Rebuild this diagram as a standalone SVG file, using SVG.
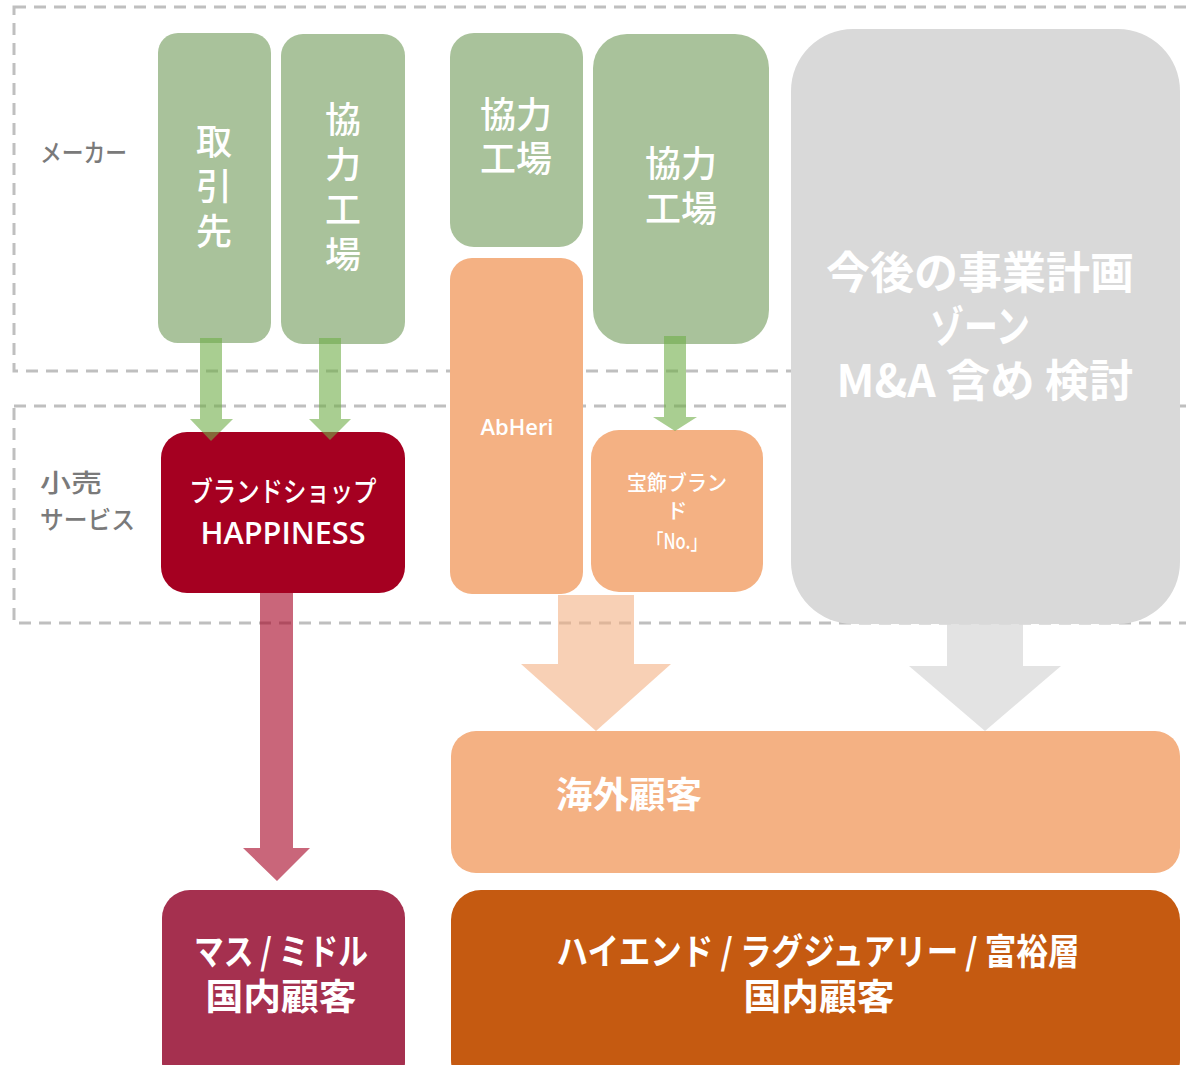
<svg xmlns="http://www.w3.org/2000/svg" width="1186" height="1065" viewBox="0 0 1186 1065">
<style>
.zone{fill:none;stroke:#BFBFBF;stroke-width:3;stroke-dasharray:12 8}
.green{fill:#A9C29B}
.orange{fill:#F4B183}
.jp{font-family:"Noto Sans CJK JP","Noto Sans",sans-serif}
.lat{font-family:"Open Sans","Noto Sans CJK JP",sans-serif}
.w{fill:#FFFFFF}
.m{font-weight:500}
.lbl{fill:#7A7A7A;font-size:25px;font-weight:500}
.big{font-size:36px}
.b{font-weight:700}
</style>
<g id="zones">
<rect class="zone" x="14" y="7" width="1190" height="364"/>
<rect class="zone" x="14" y="406" width="1190" height="217"/>
</g>
<g id="label-maker"><text class="jp lbl" x="40" y="162" textLength="87" lengthAdjust="spacingAndGlyphs">メーカー</text></g>
<g id="label-retail">
<text class="jp lbl" x="40" y="492" textLength="62" lengthAdjust="spacingAndGlyphs">小売</text>
<text class="jp lbl" x="40" y="529" textLength="95" lengthAdjust="spacingAndGlyphs">サービス</text>
</g>
<g id="n-torihikisaki">
<rect class="green" x="158" y="33" width="113" height="310" rx="20"/>
<text class="jp w m big" text-anchor="middle"><tspan x="214" y="155">取</tspan><tspan x="214" y="200">引</tspan><tspan x="214" y="245">先</tspan></text>
</g>
<g id="n-kyoryoku1">
<rect class="green" x="281" y="34" width="124" height="310" rx="22"/>
<text class="jp w m big" text-anchor="middle"><tspan x="343" y="133">協</tspan><tspan x="343" y="178">力</tspan><tspan x="343" y="223">工</tspan><tspan x="343" y="268">場</tspan></text>
</g>
<g id="n-kyoryoku2">
<rect class="green" x="450" y="33" width="133" height="214" rx="24"/>
<text class="jp w m big" text-anchor="middle"><tspan x="516" y="128">協力</tspan><tspan x="516" y="172">工場</tspan></text>
</g>
<g id="n-kyoryoku3">
<rect class="green" x="593" y="34" width="176" height="310" rx="34"/>
<text class="jp w m big" text-anchor="middle"><tspan x="681" y="177">協力</tspan><tspan x="681" y="222">工場</tspan></text>
</g>
<g id="n-future">
<rect x="791" y="29" width="389" height="595" rx="62" fill="#D9D9D9"/>
<text class="jp w b" font-size="44" text-anchor="middle">
<tspan x="985" y="289" textLength="308" lengthAdjust="spacingAndGlyphs">今後の事業計画</tspan>
<tspan x="985" y="343" textLength="100" lengthAdjust="spacingAndGlyphs">ゾーン</tspan>
<tspan x="985" y="397" textLength="297" lengthAdjust="spacingAndGlyphs">M&amp;A 含め 検討</tspan>
</text>
</g>
<g id="n-abheri">
<rect class="orange" x="450" y="258" width="133" height="336" rx="22"/>
<text class="lat w" font-size="22" font-weight="600" x="517" y="435" text-anchor="middle" textLength="73" lengthAdjust="spacingAndGlyphs">AbHeri</text>
</g>
<g id="n-hoshoku">
<rect class="orange" x="591" y="430" width="172" height="162" rx="28"/>
<text class="jp w m" font-size="21" text-anchor="middle"><tspan x="677" y="490" textLength="100" lengthAdjust="spacingAndGlyphs">宝飾ブラン</tspan><tspan x="677" y="518">ド</tspan><tspan x="677" y="549" textLength="60" lengthAdjust="spacingAndGlyphs">「No.」</tspan></text>
</g>
<g id="n-happiness">
<rect x="161" y="432" width="244" height="161" rx="26" fill="#A50021"/>
<text class="jp w m" font-size="28" x="283" y="502" text-anchor="middle" textLength="187" lengthAdjust="spacingAndGlyphs">ブランドショップ</text>
<text class="lat w" font-size="31" font-weight="600" x="283" y="544" text-anchor="middle" textLength="165" lengthAdjust="spacingAndGlyphs">HAPPINESS</text>
</g>
<g id="n-overseas">
<rect class="orange" x="451" y="731" width="729" height="142" rx="25"/>
<text class="jp w b big" x="556" y="808" textLength="146" lengthAdjust="spacingAndGlyphs">海外顧客</text>
</g>
<g id="n-mass">
<rect x="162" y="890" width="243" height="200" rx="28" fill="#A5304F"/>
<text class="jp w b big" text-anchor="middle"><tspan x="281" y="965" textLength="174" lengthAdjust="spacingAndGlyphs">マス / ミドル</tspan><tspan x="281" y="1010" textLength="151" lengthAdjust="spacingAndGlyphs">国内顧客</tspan></text>
</g>
<g id="n-highend">
<rect x="451" y="890" width="729" height="200" rx="30" fill="#C55A11"/>
<text class="jp w b big" text-anchor="middle"><tspan x="818" y="965" textLength="523" lengthAdjust="spacingAndGlyphs">ハイエンド / ラグジュアリー / 富裕層</tspan><tspan x="819" y="1010" textLength="151" lengthAdjust="spacingAndGlyphs">国内顧客</tspan></text>
</g>
<g id="connectors">
<polygon points="200,338 222,338 222,419 233,419 211,441 190,419 200,419" fill="#70AD47" fill-opacity="0.6"/>
<polygon points="319,338 341,338 341,419 351,419 330,440 309,419 319,419" fill="#70AD47" fill-opacity="0.6"/>
<polygon points="664,336 686,336 686,417 697,417 675,431 653,417 664,417" fill="#70AD47" fill-opacity="0.6"/>
<polygon points="260,593 293,593 293,848 310,848 277,881 243,848 260,848" fill="#A50021" fill-opacity="0.6"/>
<polygon points="558,595 634,595 634,664 671,664 596,731 521,664 558,664" fill="#F4B183" fill-opacity="0.6"/>
<polygon points="947,624 1023,624 1023,666 1061,666 985,731 909,666 947,666" fill="#D9D9D9" fill-opacity="0.75"/>
</g>
</svg>
